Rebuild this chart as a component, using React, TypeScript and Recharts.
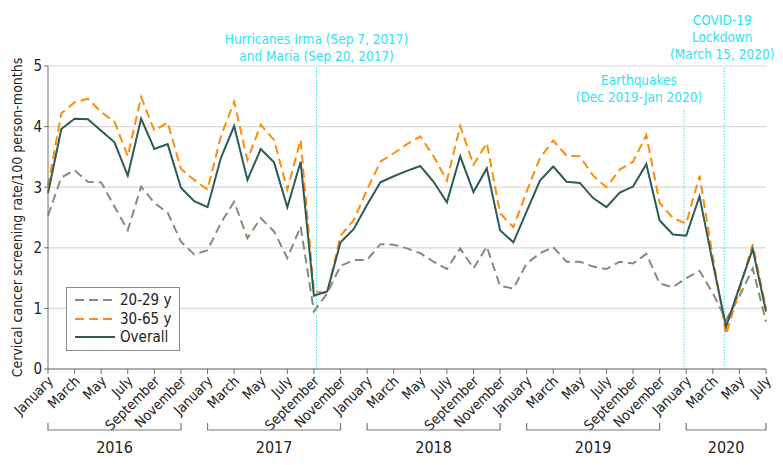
import React from 'react';
import { LineChart, Line, XAxis, YAxis, CartesianGrid, ReferenceLine, Legend } from 'recharts';

// Jan 2016 .. Jul 2020, one value per month (index 0..54)
const monthNames = ['January', 'February', 'March', 'April', 'May', 'June', 'July', 'August', 'September', 'October', 'November', 'December'];
const monthTicks = [0, 2, 4, 6, 8, 10, 12, 14, 16, 18, 20, 22, 24, 26, 28, 30, 32, 34, 36, 38, 40, 42, 44, 46, 48, 50, 52, 54];
const yTicks = [0, 1, 2, 3, 4, 5];

const years = ['2016', '2017', '2018', '2019', '2020'];
const yearStart = [0, 12, 24, 36, 48];
const yearEnd = [10, 22, 34, 46, 54];

const age2029 = [
  2.53, 3.16, 3.28, 3.09, 3.08, 2.68, 2.29, 3.01, 2.74, 2.58, 2.1, 1.89,
  1.96, 2.41, 2.76, 2.16, 2.49, 2.27, 1.83, 2.35, 0.95, 1.25, 1.7, 1.8,
  1.8, 2.06, 2.05, 1.99, 1.91, 1.77, 1.65, 1.99, 1.66, 2.02, 1.37, 1.33,
  1.74, 1.91, 2.01, 1.77, 1.77, 1.69, 1.65, 1.77, 1.74, 1.9, 1.41, 1.35,
  1.5, 1.62, 1.25, 0.81, 1.2, 1.66, 0.78,
];
const age3065 = [
  3.01, 4.22, 4.4, 4.46, 4.24, 4.08, 3.51, 4.49, 3.93, 4.07, 3.3, 3.12,
  2.96, 3.84, 4.41, 3.45, 4.03, 3.78, 2.96, 3.78, 1.28, 1.25, 2.2, 2.46,
  2.96, 3.42, 3.56, 3.71, 3.84, 3.51, 3.11, 4.01, 3.37, 3.73, 2.57, 2.34,
  2.93, 3.48, 3.77, 3.52, 3.51, 3.19, 3.0, 3.29, 3.42, 3.86, 2.74, 2.49,
  2.4, 3.19, 1.85, 0.57, 1.3, 2.06, 1.0,
];
const overall = [
  2.9, 3.96, 4.13, 4.12, 3.93, 3.74, 3.19, 4.13, 3.63, 3.71, 2.99, 2.77,
  2.67, 3.48, 4.01, 3.12, 3.63, 3.41, 2.67, 3.42, 1.21, 1.28, 2.09, 2.31,
  2.71, 3.08, 3.18, 3.27, 3.35, 3.09, 2.75, 3.51, 2.92, 3.31, 2.29, 2.09,
  2.6, 3.11, 3.34, 3.09, 3.07, 2.82, 2.67, 2.91, 3.01, 3.38, 2.45, 2.22,
  2.2, 2.85, 1.75, 0.7, 1.35, 1.98, 0.95,
];

// event markers (month index, fractional)
const hurricaneAt = 20.2;
const quakeAt = 47.83;
const covidAt = 50.86;

const data = overall.map((v, i) => ({ idx: i, a2029: age2029[i], a3065: age3065[i], overall: v }));

const FONT = "'DejaVu Sans Condensed', 'Open Sans', sans-serif";
const GRAY = '#8a8a78';
const ORANGE = '#ff8c0a';
const TEAL = '#2c5b58';
const CYAN = '#2ee3f2';
const TEXT = '#222';

const W = 775;
const H = 457;
const M = { top: 58, right: 17, left: 0, bottom: 0 };
const YW = 40;
const monthPx = (W - M.left - M.right - YW) / 54;

const series = [
  { key: 'a2029', name: '20-29 y', color: GRAY, dash: '9 5' },
  { key: 'a3065', name: '30-65 y', color: ORANGE, dash: '9 5' },
  { key: 'overall', name: 'Overall', color: TEAL, dash: undefined as string | undefined },
];

const MonthTick = ({ x, y, payload }: any) => (
  <text
    x={x + 6}
    y={y + 6}
    transform={`rotate(-45 ${x + 6} ${y + 6})`}
    textAnchor="end"
    fontSize={14}
    fontFamily={FONT}
    fill={TEXT}
  >
    {monthNames[payload.value % 12]}
  </text>
);

const YearTick = ({ x, y, payload }: any) => {
  const k = yearStart.findIndex((s, j) => (s + yearEnd[j]) / 2 === payload.value);
  if (k < 0) return null;
  const half = ((yearEnd[k] - yearStart[k]) / 2) * monthPx;
  const l = x - half;
  const r = x + half;
  return (
    <g>
      <path d={`M${l},${y - 1}V${y + 6}H${r}V${y - 1}`} fill="none" stroke="#7a7a7a" strokeWidth={1.2} />
      <text x={x} y={y + 29} textAnchor="middle" fontSize={16} fontFamily={FONT} fill={TEXT}>
        {years[k]}
      </text>
    </g>
  );
};

const Annot = ({ viewBox, lines, dx, gap }: any) => {
  const x = viewBox.x + dx;
  const last = viewBox.y - gap;
  return (
    <text textAnchor="middle" fontSize={13.5} fontFamily={FONT} fill={CYAN}>
      {lines.map((t: string, k: number) => (
        <tspan key={k} x={x} y={last - (lines.length - 1 - k) * 17}>
          {t}
        </tspan>
      ))}
    </text>
  );
};

const YLabel = ({ viewBox }: any) => {
  const cx = 9;
  const cy = viewBox.y + viewBox.height / 2;
  return (
    <text
      x={cx}
      y={cy}
      transform={`rotate(-90 ${cx} ${cy})`}
      textAnchor="middle"
      dominantBaseline="central"
      fontSize={14}
      fontFamily={FONT}
      fill={TEXT}
    >
      Cervical cancer screening rate/100 person-months
    </text>
  );
};

const LegendBox = () => (
  <div style={{ border: '1px solid #8c8c8c', background: '#fff', padding: '3px 8px 3px 8px', fontFamily: FONT, fontSize: 15, color: TEXT }}>
    {series.map((s) => (
      <div key={s.key} style={{ display: 'flex', alignItems: 'center', height: 18.5 }}>
        <svg width={40} height={4}>
          <line x1={0} y1={2} x2={40} y2={2} stroke={s.color} strokeWidth={2} strokeDasharray={s.dash} />
        </svg>
        <span style={{ marginLeft: 5 }}>{s.name}</span>
      </div>
    ))}
  </div>
);

export default function App() {
  return (
    <div style={{ width: W, height: H, position: 'relative' }}>
      <LineChart width={W} height={H} data={data} margin={M}>
        <CartesianGrid vertical={false} stroke="#d9d9d9" strokeWidth={1.2} />
        <XAxis
          dataKey="idx"
          type="number"
          domain={[0, 54]}
          ticks={monthTicks}
          interval={0}
          height={55}
          tickSize={5}
          tick={<MonthTick />}
          stroke="#6e6e6e"
        />
        <XAxis
          xAxisId="year"
          dataKey="idx"
          type="number"
          domain={[0, 54]}
          ticks={yearStart.map((s, j) => (s + yearEnd[j]) / 2)}
          interval={0}
          height={41}
          axisLine={false}
          tickLine={false}
          tickSize={0}
          tickMargin={0}
          tick={<YearTick />}
        />
        <YAxis
          domain={[0, 5]}
          ticks={yTicks}
          width={YW}
          tickSize={4}
          stroke="#6e6e6e"
          tick={{ fontSize: 15, fontFamily: FONT, fill: TEXT }}
          label={<YLabel />}
        />
        <ReferenceLine
          x={hurricaneAt}
          stroke={CYAN}
          strokeDasharray="1.5 1.5"
          label={<Annot lines={['Hurricanes Irma (Sep 7, 2017)', 'and María (Sep 20, 2017)']} dx={0} gap={5} />}
        />
        <ReferenceLine
          segment={[{ x: quakeAt, y: 4.27 }, { x: quakeAt, y: 0 }]}
          stroke={CYAN}
          strokeDasharray="1.5 1.5"
          label={<Annot lines={['Earthquakes', '(Dec 2019-Jan 2020)']} dx={-45} gap={8} />}
        />
        <ReferenceLine
          x={covidAt}
          stroke={CYAN}
          strokeDasharray="1.5 1.5"
          label={<Annot lines={['COVID-19', 'Lockdown', '(March 15, 2020)']} dx={-2} gap={7} />}
        />
        {series.map((s) => (
          <Line
            key={s.key}
            dataKey={s.key}
            name={s.name}
            stroke={s.color}
            strokeWidth={2}
            strokeDasharray={s.dash}
            dot={false}
            isAnimationActive={false}
          />
        ))}
        <Legend
          layout="vertical"
          align="center"
          verticalAlign="middle"
          content={<LegendBox />}
          wrapperStyle={{ left: 58, top: 279, width: 'auto', height: 'auto' }}
        />
      </LineChart>
    </div>
  );
}
